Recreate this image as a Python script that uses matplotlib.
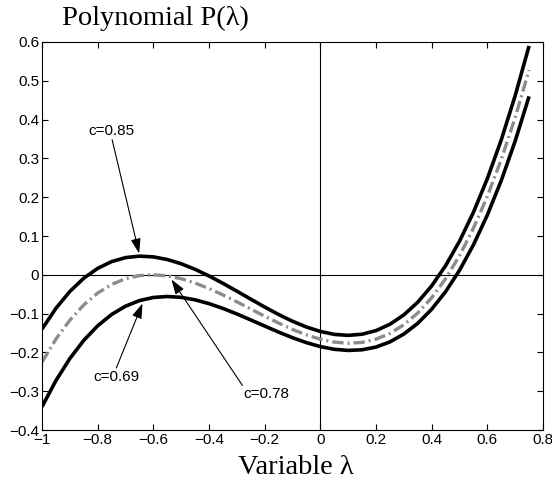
import matplotlib
matplotlib.use("Agg")
import matplotlib.pyplot as plt

# values, step 0.05 in lambda
lam = [-1.00, -0.95, -0.90, -0.85, -0.80, -0.75, -0.70, -0.65, -0.60, -0.55,
       -0.50, -0.45, -0.40, -0.35, -0.30, -0.25, -0.20, -0.15, -0.10, -0.05,
       0.00, 0.05, 0.10, 0.15, 0.20, 0.25, 0.30, 0.35, 0.40, 0.45,
       0.50, 0.55, 0.60, 0.65, 0.70, 0.75]

p_085 = [-0.140, -0.0864, -0.0429, -0.0088, 0.0166, 0.0340, 0.0443, 0.0481, 0.0462, 0.0394,
         0.0285, 0.0141, -0.0030, -0.0220, -0.0421, -0.0627, -0.0830, -0.1023, -0.1197, -0.1345,
         -0.146, -0.1535, -0.1561, -0.1531, -0.1438, -0.1275, -0.1033, -0.0706, -0.0286, 0.0235,
         0.0865, 0.1610, 0.2478, 0.3477, 0.4615, 0.5898]

p_078 = [-0.225, -0.1657, -0.1168, -0.0776, -0.0471, -0.0249, -0.0101, -0.0020, 0.0002, -0.0028,
         -0.0101, -0.0213, -0.0354, -0.0518, -0.0696, -0.0882, -0.1067, -0.1244, -0.1408, -0.1548,
         -0.166, -0.1734, -0.1764, -0.1742, -0.1659, -0.1510, -0.1288, -0.0984, -0.0590, -0.0101,
         0.0493, 0.1198, 0.2022, 0.2972, 0.4055, 0.5279]

p_069 = [-0.340, -0.2726, -0.2158, -0.1690, -0.1314, -0.1023, -0.0809, -0.0665, -0.0584, -0.0559,
         -0.0581, -0.0645, -0.0743, -0.0866, -0.1009, -0.1163, -0.1320, -0.1476, -0.1621, -0.1748,
         -0.185, -0.1920, -0.1949, -0.1932, -0.1862, -0.1729, -0.1527, -0.1250, -0.0887, -0.0435,
         0.0115, 0.0771, 0.1540, 0.2429, 0.3447, 0.4599]

xticks = [-1, -0.8, -0.6, -0.4, -0.2, 0, 0.2, 0.4, 0.6, 0.8]
xticklabels = ['\u22121', '\u22120.8', '\u22120.6', '\u22120.4', '\u22120.2', '0', '0.2', '0.4', '0.6', '0.8']
yticks = [-0.4, -0.3, -0.2, -0.1, 0, 0.1, 0.2, 0.3, 0.4, 0.5, 0.6]
yticklabels = ['\u22120.4', '\u22120.3', '\u22120.2', '\u22120.1', '0', '0.1', '0.2', '0.3', '0.4', '0.5', '0.6']

sans = ['Liberation Sans', 'DejaVu Sans']
serif = ['Liberation Serif', 'DejaVu Serif']

fig = plt.figure(figsize=(5.52, 4.87), dpi=100)
ax = fig.add_axes([0.0761, 0.117, 0.9076, 0.7968])

ax.axhline(0, color='black', lw=0.8, zorder=1)
ax.axvline(0, color='black', lw=0.8, zorder=1)

ax.plot(lam, p_085, color='black', lw=2.6, solid_capstyle='butt', zorder=3)
ax.plot(lam, p_069, color='black', lw=2.6, solid_capstyle='butt', zorder=3)
ax.plot(lam, p_078, color='#8c8c8c', lw=2.4, linestyle=(0, (3.4, 1.2, 0.6, 1.2)), zorder=2)

ax.set_xlim(-1, 0.8)
ax.set_ylim(-0.4, 0.6)
ax.set_xticks(xticks)
ax.set_xticklabels(xticklabels, family=sans, fontsize=11)
ax.set_yticks(yticks)
ax.set_yticklabels(yticklabels, family=sans, fontsize=11)
ax.tick_params(direction='in', length=4.5, width=0.8, top=True, right=True, pad=2)
for s in ax.spines.values():
    s.set_linewidth(0.8)

arrow = dict(arrowstyle='-|>,head_length=0.9,head_width=0.3', color='black', lw=0.8,
             shrinkA=0, shrinkB=0)

ax.text(-0.749, 0.371, 'c=0.85', family=sans, fontsize=11, ha='center', va='center')
ax.annotate('', xy=(-0.651, 0.055), xytext=(-0.748, 0.348), arrowprops=arrow)

ax.text(-0.733, -0.264, 'c=0.69', family=sans, fontsize=11, ha='center', va='center')
ax.annotate('', xy=(-0.639, -0.074), xytext=(-0.733, -0.24), arrowprops=arrow)

ax.text(-0.194, -0.307, 'c=0.78', family=sans, fontsize=11, ha='center', va='center')
ax.annotate('', xy=(-0.535, -0.012), xytext=(-0.280, -0.285), arrowprops=arrow)

fig.text(0.112, 0.963, 'Polynomial P(\u03bb)', family=serif, fontsize=20.5, ha='left', va='center')
fig.text(0.536, 0.041, 'Variable \u03bb', family=serif, fontsize=20.5, ha='center', va='center')

fig.savefig('out.png', dpi=100)
